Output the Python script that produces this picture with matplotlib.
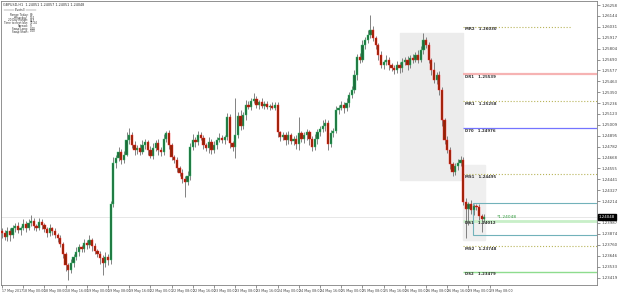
import numpy as np
import matplotlib
matplotlib.use("Agg")
import matplotlib.pyplot as plt
from matplotlib.patches import Rectangle
import matplotlib.transforms as mtransforms

# header / info panel
symbol_info = "GBPUSD,H1  1.24051 1.24057 1.24051 1.24048"
info_labels = ["Range Today:", "Yesterday:", "20 Day Range:", "Time to next bar:",
               "Spread:", "Swap Long:", "Swap Short:"]
info_values = ["80", "132", "847", "37:24", "9", "0.00", "0.00"]

# candles, in pips above 1.2300 (H1 bars)
base = 1.2300
first_open = 90
close_pips = [
    88, 84, 90, 86, 93, 96, 91, 94, 98, 93, 99, 101, 96, 94, 100, 97, 92, 88, 93, 90,
    86, 83, 77, 66, 55, 50, 57, 63, 69, 74, 72, 78, 76, 81, 75, 70, 66, 62, 57, 63,
    60, 118, 161, 166, 173, 164, 170, 185, 190, 180, 175, 177, 173, 180, 183, 175, 169, 177, 182, 175,
    173, 186, 192, 180, 167, 164, 156, 151, 145, 141, 148, 178, 185, 183, 190, 187, 180, 177, 183, 175,
    180, 185, 187, 185, 188, 209, 182, 178, 190, 210, 200, 211, 222, 220, 226, 228, 222, 225, 221, 223,
    220, 221, 219, 222, 193, 188, 190, 185, 190, 184, 186, 181, 192, 186, 190, 194, 186, 178, 186, 193,
    197, 200, 203, 181, 192, 195, 216, 219, 222, 218, 224, 232, 237, 253, 272, 269, 284, 289, 295, 300,
    291, 284, 274, 263, 266, 269, 263, 260, 258, 263, 260, 266, 269, 263, 271, 269, 274, 269, 279, 289,
    284, 269, 258, 248, 253, 237, 206, 185, 175, 160, 152, 158, 161, 164, 121, 113, 118, 112, 116, 115,
    106, 103, 105,
]
upper_wick = [
    4, 3, 5, 3, 4, 3, 4, 2, 5, 3, 4, 6, 3, 2, 4, 3, 2, 3, 5, 2,
    3, 2, 3, 2, 3, 2, 4, 3, 5, 3, 2, 4, 3, 5, 2, 3, 2, 4, 3, 6,
    3, 4, 6, 4, 5, 3, 4, 8, 8, 3, 4, 3, 4, 5, 3, 2, 4, 5, 3, 4,
    3, 5, 3, 4, 2, 3, 3, 2, 4, 3, 5, 4, 6, 3, 5, 4, 3, 2, 5, 3,
    4, 3, 5, 3, 2, 4, 3, 2, 39, 4, 6, 3, 5, 4, 3, 6, 3, 2, 4, 3,
    3, 2, 4, 3, 3, 2, 4, 3, 5, 2, 3, 4, 17, 3, 4, 3, 2, 3, 5, 4,
    3, 6, 4, 3, 4, 3, 5, 3, 4, 3, 5, 3, 4, 5, 3, 4, 5, 4, 5, 15,
    4, 3, 2, 4, 3, 5, 3, 2, 3, 4, 3, 5, 3, 4, 3, 4, 3, 5, 4, 8,
    4, 3, 2, 8, 3, 4, 3, 2, 4, 3, 2, 3, 4, 5, 3, 4, 3, 5, 3, 2,
    3, 2, 3,
]
lower_wick = [
    5, 3, 4, 6, 3, 4, 3, 5, 3, 4, 2, 3, 5, 4, 3, 5, 3, 4, 3, 4,
    3, 4, 3, 4, 6, 11, 3, 4, 3, 5, 4, 3, 4, 3, 5, 4, 3, 6, 12, 4,
    5, 4, 3, 5, 3, 4, 3, 2, 4, 3, 5, 4, 3, 2, 4, 5, 3, 4, 3, 5,
    4, 3, 3, 4, 3, 3, 4, 3, 5, 15, 3, 4, 3, 5, 3, 2, 4, 3, 5, 4,
    3, 4, 2, 3, 4, 3, 5, 4, 12, 3, 4, 3, 5, 3, 4, 2, 3, 5, 3, 4,
    3, 4, 2, 3, 5, 4, 3, 5, 4, 3, 4, 5, 6, 3, 4, 5, 6, 4, 3, 5,
    4, 3, 5, 6, 3, 4, 3, 4, 3, 5, 3, 4, 3, 3, 5, 4, 3, 4, 3, 4,
    3, 4, 5, 3, 4, 3, 5, 3, 4, 3, 5, 4, 3, 5, 3, 4, 3, 4, 3, 4,
    3, 4, 5, 3, 4, 5, 6, 4, 3, 5, 4, 3, 4, 3, 4, 30, 16, 4, 5, 3,
    4, 14, 3,
]

date_labels = ["17 May 2017", "18 May 00:00", "18 May 08:00", "18 May 16:00",
               "19 May 00:00", "19 May 08:00", "19 May 16:00", "22 May 00:00",
               "22 May 08:00", "22 May 16:00", "23 May 00:00", "23 May 08:00",
               "23 May 16:00", "24 May 00:00", "24 May 08:00", "24 May 16:00",
               "25 May 00:00", "25 May 08:00", "25 May 16:00", "26 May 00:00",
               "26 May 08:00", "26 May 16:00", "29 May 00:00", "29 May 08:00"]
price_ticks = [1.26258, 1.26144, 1.26031, 1.25917, 1.25804, 1.25690, 1.25577,
               1.25463, 1.25350, 1.25236, 1.25123, 1.25009, 1.24895, 1.24782,
               1.24668, 1.24555, 1.24441, 1.24327, 1.24214, 1.23987, 1.23874,
               1.23760, 1.23646, 1.23533, 1.23419]

# pivot levels
level_names = ["MR2", "DR1", "MR1", "D70", "MS1", "DS1", "MS2", "DS2"]
level_values = [1.26030, 1.25539, 1.25258, 1.24976, 1.24495, 1.24012, 1.23748, 1.23479]
current_price = 1.24048

closes = base + np.array(close_pips) / 10000
opens = base + np.array([first_open] + close_pips[:-1]) / 10000
highs = np.maximum(opens, closes) + np.array(upper_wick) / 10000
lows = np.minimum(opens, closes) - np.array(lower_wick) / 10000
idx = np.arange(len(closes))

fig = plt.figure(figsize=(6.25, 2.94), dpi=100)
ax = fig.add_axes([1 / 625, 9 / 294, 596 / 625, 284 / 294])
x_min, x_max = -0.377, 224.5
ax.set_xlim(x_min, x_max)
ax.set_ylim(1.23341, 1.26300)

# shaded zones
ax.add_patch(Rectangle((150, 1.24435), 24, 1.25966 - 1.24435, color="#ececec", zorder=0))
ax.add_patch(Rectangle((174, 1.23810), 8.3, 1.24591 - 1.23810, color="#efefef", zorder=0))

# current price line
ax.axhline(current_price, color="#dddddd", lw=0.5, zorder=0.5)

# candles
up = closes >= opens
ax.vlines(idx, lows, highs, color="#6e6e6e", lw=0.6, zorder=2)
body_h = np.maximum(np.abs(closes - opens), 0.00004)
body_b = np.minimum(opens, closes)
ax.bar(idx[up], body_h[up], bottom=body_b[up], width=0.85,
       color="#1d6b3a", edgecolor="#30c36c", linewidth=0.3, zorder=3)
ax.bar(idx[~up], body_h[~up], bottom=body_b[~up], width=0.85,
       color="#8e2408", edgecolor="#ff2020", linewidth=0.3, zorder=3)

# pivot lines
lv_start = 174
olive = "#b8b45a"
styles = {
    "MR2": (olive, ":", 0.8, 214.7),
    "DR1": ("#f6b3b3", "-", 1.6, x_max),
    "MR1": (olive, ":", 0.8, x_max),
    "D70": ("#7474ff", "-", 0.9, x_max),
    "MS1": (olive, ":", 0.8, x_max),
    "DS1": ("#c8efc8", "-", 2.0, x_max),
    "MS2": (olive, ":", 0.8, x_max),
    "DS2": ("#8edc8e", "-", 1.0, x_max),
}
for name, val in zip(level_names, level_values):
    col, ls, lw, x_end = styles[name]
    ax.hlines(val, lv_start, x_end, colors=col, linestyles=ls, lw=lw, zorder=1)
    ax.text(lv_start + 0.8, val - 0.00006, f"{name}   {val:.5f}", fontsize=2.8,
            color="#303030", fontweight="bold", va="top", ha="left", zorder=4)

# teal range box
ax.add_patch(Rectangle((177.7, 1.23862), x_max - 177.7, 1.24195 - 1.23862,
                       fill=False, edgecolor="#72b2ba", lw=0.8, zorder=1))

ax.text(186.8, current_price - 0.00002, f"*{current_price:.5f}", fontsize=3.2,
        color="#2e9a3a", va="center", ha="left", zorder=4)

# axes styling
for s in ax.spines.values():
    s.set_color("#808080")
    s.set_linewidth(0.6)
ax.yaxis.tick_right()
ax.set_yticks(price_ticks)
ax.set_yticklabels([f"{t:.5f}" for t in price_ticks])
ax.tick_params(axis="y", labelsize=2.8, length=2, width=0.4, colors="#404040", pad=1)
ax.set_xticks(np.arange(len(date_labels)) * 8)
ax.set_xticklabels(date_labels)
ax.tick_params(axis="x", labelsize=2.3, length=2, width=0.4, colors="#404040", pad=1)
for lab in ax.get_xticklabels():
    lab.set_ha("left")

# current price box on axis
trans = mtransforms.blended_transform_factory(ax.transAxes, ax.transData)
ax.text(1.003, current_price, f"{current_price:.5f}", transform=trans, fontsize=2.8,
        color="white", va="center", ha="left", clip_on=False,
        bbox=dict(boxstyle="square,pad=0.25", fc="black", ec="black"))

# info panel
def px(x, y):
    return x / 625, 1 - y / 294

fig.text(*px(3, 5), symbol_info, fontsize=2.4, color="#303030", va="center")
fig.text(*px(20, 10), "Pivots3", fontsize=2.2, color="#303030", va="center", ha="center")
fig.lines.append(plt.Line2D([4 / 625, 14 / 625], [1 - 10 / 294] * 2, lw=0.3, color="#606060",
                            transform=fig.transFigure))
fig.lines.append(plt.Line2D([26 / 625, 36 / 625], [1 - 10 / 294] * 2, lw=0.3, color="#606060",
                            transform=fig.transFigure))
for k, (lab, val) in enumerate(zip(info_labels, info_values)):
    y = 15 + k * 2.75
    fig.text(*px(28, y), lab, fontsize=2.0, color="#303030", va="center", ha="right")
    fig.text(*px(30, y), val, fontsize=2.0, color="#303030", va="center", ha="left")

fig.savefig("out.png", dpi=100, facecolor="white")
